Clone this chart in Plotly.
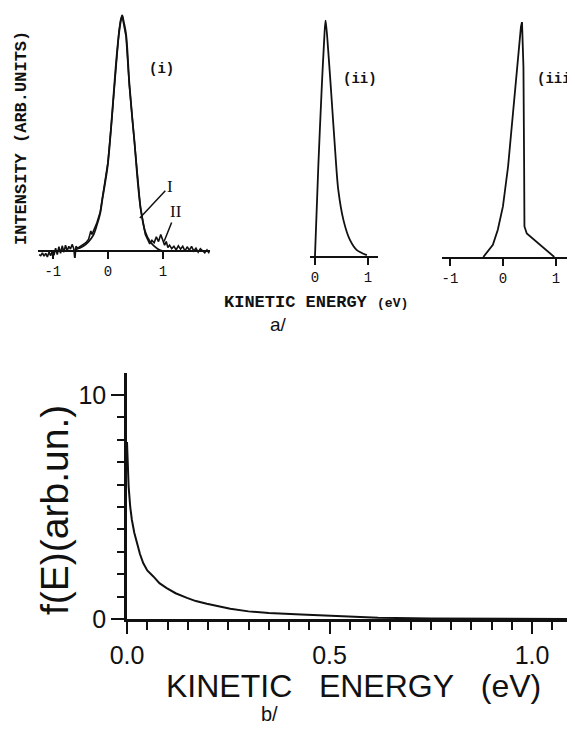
import plotly.graph_objects as go

W, H = 575, 732

# ---------------- data ----------------
# panel a(i): curve I (smooth) and curve II (noisy experimental)
e_i_I = [-0.6, -0.45, -0.35, -0.27, -0.2, -0.14, -0.1, -0.05, 0.0, 0.06, 0.115, 0.16, 0.2, 0.23,
         0.26, 0.29, 0.33, 0.39, 0.44, 0.48, 0.54, 0.59, 0.68, 0.77, 0.9, 1.0]
int_i_I = [0.005, 0.02, 0.04, 0.065, 0.11, 0.16, 0.22, 0.29, 0.37, 0.53, 0.70, 0.83, 0.92, 0.97,
           1.0, 0.97, 0.92, 0.71, 0.57, 0.47, 0.30, 0.19, 0.08, 0.038, 0.01, 0.0]

e_i_II = [-1.25, -1.22, -1.19, -1.16, -1.13, -1.10, -1.07, -1.04, -1.01, -0.98, -0.95, -0.92,
          -0.89, -0.86, -0.83, -0.80, -0.77, -0.74, -0.71, -0.68, -0.65, -0.62,
          -0.60, -0.58, -0.55, -0.50, -0.45, -0.40, -0.35, -0.31, -0.29, -0.27, -0.24, -0.2,
          -0.14, -0.1, -0.05,
          0.0, 0.06, 0.115, 0.16, 0.2, 0.23, 0.26, 0.29, 0.33, 0.39, 0.44, 0.48, 0.54, 0.59,
          0.64, 0.68, 0.72, 0.76, 0.80, 0.84, 0.88, 0.92, 0.96, 1.0,
          1.03, 1.06, 1.09, 1.12, 1.16, 1.2, 1.24, 1.28, 1.32, 1.36, 1.4, 1.44, 1.48, 1.52,
          1.56, 1.6, 1.64, 1.68, 1.72, 1.76, 1.8, 1.84]
int_i_II = [-0.015, -0.02, -0.008, -0.022, -0.01, -0.025, -0.005, -0.02, 0.0, -0.018, 0.012, -0.015,
            0.018, -0.01, 0.022, -0.005, 0.025, 0.0, 0.02, 0.008, 0.028, 0.01,
            -0.035, 0.02, 0.012, 0.02, 0.03, 0.035, 0.05, 0.085, 0.07, 0.08, 0.095, 0.12,
            0.165, 0.225, 0.29,
            0.375, 0.53, 0.70, 0.83, 0.93, 0.98, 1.0, 0.96, 0.91, 0.70, 0.57, 0.46, 0.30, 0.185,
            0.12, 0.07, 0.05, 0.03, 0.045, 0.035, 0.06, 0.04, 0.07, 0.045,
            0.025, 0.04, 0.015, 0.025, 0.01, 0.02, 0.005, 0.022, 0.008, 0.02, 0.0, 0.018,
            0.003, 0.02, 0.0, 0.012, -0.005, 0.01, 0.0, -0.008, 0.005, -0.01]

# panel a(ii)
e_ii = [0.0, 0.063, 0.127, 0.17, 0.2, 0.25, 0.316, 0.38, 0.44, 0.54, 0.66, 0.79, 0.98]
int_ii = [0.0, 0.38, 0.71, 0.9, 1.0, 0.87, 0.66, 0.45, 0.28, 0.15, 0.068, 0.025, 0.004]

# panel a(iii)
e_iii = [-0.37, -0.19, -0.097, 0.0, 0.097, 0.19, 0.29, 0.34, 0.36, 0.387, 0.40, 0.406,
         0.45, 0.55, 0.71, 0.84, 0.97]
int_iii = [0.0, 0.052, 0.116, 0.215, 0.385, 0.625, 0.866, 0.98, 1.0, 0.81, 0.385, 0.13,
           0.10, 0.08, 0.052, 0.024, 0.0]

# panel b: f(E)
e_b = [0.0, 0.002, 0.004, 0.008, 0.012, 0.018, 0.024, 0.032, 0.04, 0.05, 0.065, 0.08, 0.098,
       0.12, 0.148, 0.17, 0.197, 0.225, 0.255, 0.3, 0.35, 0.43, 0.5, 0.62, 0.75, 0.9, 1.106]
f_b = [7.9, 6.6, 5.92, 5.0, 4.43, 3.85, 3.39, 2.9, 2.5, 2.17, 1.9, 1.6, 1.38, 1.15, 0.94, 0.8,
       0.68, 0.57, 0.46, 0.34, 0.27, 0.2, 0.14, 0.06, 0.02, 0.005, 0.0]

ticks_a_i = [-1, 0, 1]
ticks_a_ii = [0, 1]
ticks_a_iii = [-1, 0, 1]
tick_step_b_x = 0.5
minor_step_b_x = 0.05
tick_step_b_y = 10
minor_step_b_y = 1

# ---------------- helpers ----------------
OFF = 8  # page body margin offset


def px(x):
    return (x - OFF) / W


def py(y):
    return 1 - (y - OFF) / H


MONO = "Liberation Mono"
SANS = "Liberation Sans"
BLACK = "#111111"

fig = go.Figure()

fig.add_trace(go.Scatter(x=e_i_II, y=int_i_II, mode="lines", line=dict(color=BLACK, width=1.6),
                         xaxis="x", yaxis="y", hoverinfo="skip"))
fig.add_trace(go.Scatter(x=e_i_I, y=int_i_I, mode="lines", line=dict(color=BLACK, width=1.8, shape="spline"),
                         xaxis="x", yaxis="y", hoverinfo="skip"))
fig.add_trace(go.Scatter(x=e_ii, y=int_ii, mode="lines", line=dict(color=BLACK, width=1.8, shape="spline", smoothing=0.8),
                         xaxis="x2", yaxis="y2", hoverinfo="skip"))
fig.add_trace(go.Scatter(x=e_iii, y=int_iii, mode="lines", line=dict(color=BLACK, width=1.8),
                         xaxis="x3", yaxis="y3", hoverinfo="skip"))
fig.add_trace(go.Scatter(x=e_b, y=f_b, mode="lines", line=dict(color=BLACK, width=2),
                         xaxis="x5", yaxis="y5", hoverinfo="skip"))

tickfont_a = dict(family=MONO, size=14, color=BLACK)

# panel (i) geometry: baseline 251 px, top 13 px, x from 38 to 210 px
base_i, top_i = 251, 13
ymax_i = 1.01
unit_i = (base_i - top_i) / ymax_i
bot_i = 258
ymin_i = -(bot_i - base_i) / unit_i

common_x = dict(showgrid=False, zeroline=False, showline=True, linecolor=BLACK, linewidth=2,
                ticks="outside", tickcolor=BLACK, tickwidth=2, tickfont=tickfont_a, ticklen=7,
                automargin=False, tickprefix="<b>", ticksuffix="</b>")
hidden = dict(visible=False, showgrid=False, zeroline=False, automargin=False)

layout = dict(
    template="none",
    width=W, height=H, margin=dict(l=0, r=0, t=0, b=0, pad=0), autosize=False,
    paper_bgcolor="white", plot_bgcolor="rgba(0,0,0,0)", showlegend=False,
    xaxis=dict(domain=[px(38), px(210)], range=[-1.27, 1.855], anchor="free", position=py(base_i),
               tickvals=ticks_a_i, ticktext=[str(v) for v in ticks_a_i], **common_x),
    yaxis=dict(domain=[py(bot_i), py(top_i)], range=[ymin_i, ymax_i], anchor="x", **hidden),
    # axis-only subplot giving the y-axis line of panel (i)
    xaxis4=dict(domain=[px(38), px(210)], range=[-1.27, 1.855], anchor="y4", **hidden),
    yaxis4=dict(domain=[py(base_i), py(top_i)], range=[0, ymax_i], anchor="x4", showline=True,
                linecolor=BLACK, linewidth=2, showgrid=False, zeroline=False, ticks="",
                showticklabels=False, automargin=False),
    xaxis2=dict(domain=[px(310), px(378)], range=[-0.094, 1.19], anchor="y2",
                tickvals=ticks_a_ii, ticktext=[str(v) for v in ticks_a_ii], **common_x),
    yaxis2=dict(domain=[py(256), py(20)], range=[0, 1.0], anchor="x2", **hidden),
    xaxis3=dict(domain=[px(442), px(575)], range=[-1.15, 1.36], anchor="y3",
                tickvals=ticks_a_iii, ticktext=[str(v) for v in ticks_a_iii], **common_x),
    yaxis3=dict(domain=[py(257), py(22)], range=[0, 1.0], anchor="x3", **hidden),
    xaxis5=dict(domain=[px(127), px(575)], range=[0, 1.106], anchor="y5", showgrid=False, zeroline=False,
                showline=True, linecolor=BLACK, linewidth=2.5, ticks="outside", ticklen=12,
                tickwidth=2, tickcolor=BLACK, tickmode="linear", tick0=0, dtick=tick_step_b_x,
                tickformat=".1f",
                tickfont=dict(family=SANS, size=25, color=BLACK), automargin=False,
                minor=dict(tickmode="linear", tick0=0, dtick=minor_step_b_x, ticks="outside", ticklen=8,
                           tickwidth=2, tickcolor=BLACK, showgrid=False)),
    yaxis5=dict(domain=[py(619), py(373)], range=[0, 10.98], anchor="x5", showgrid=False, zeroline=False,
                showline=True, linecolor=BLACK, linewidth=2.5, ticks="outside", ticklen=13,
                tickwidth=2, tickcolor=BLACK, tickmode="linear", tick0=0, dtick=tick_step_b_y,
                tickfont=dict(family=SANS, size=25, color=BLACK), automargin=False,
                minor=dict(tickmode="linear", tick0=0, dtick=minor_step_b_y, ticks="outside", ticklen=7,
                           tickwidth=2, tickcolor=BLACK, showgrid=False)),
)
fig.update_layout(**layout)


def text_ann(text, x, y, font, angle=0, xanchor="center"):
    return dict(text=text, x=px(x), y=py(y), xref="paper", yref="paper", showarrow=False,
                xanchor=xanchor, yanchor="middle", textangle=angle, font=font)


ann = []
labfont = dict(family=MONO, size=14, color=BLACK)
ann.append(text_ann("<b>(i)</b>", 162, 69, labfont))
ann.append(text_ann("<b>(ii)</b>", 360, 79, labfont))
ann.append(text_ann("<b>(iii)</b>", 535, 79, labfont, xanchor="left"))
ann.append(text_ann("<b>INTENSITY (ARB.UNITS)</b>", 22, 138, dict(family=MONO, size=17, color=BLACK), angle=-90))
ann.append(text_ann("<b>KINETIC ENERGY <span style='font-size:13px'>(eV)</span></b>", 316, 303,
                    dict(family=MONO, size=17, color=BLACK)))
ann.append(text_ann("a/", 278, 324, dict(family=SANS, size=19, color=BLACK)))
# curve labels I, II with leader lines
ann.append(dict(text="I", x=0.58, y=0.14, xref="x", yref="y", ax=30, ay=-32, showarrow=True,
                arrowhead=0, arrowwidth=1.5, arrowcolor=BLACK, standoff=0,
                font=dict(family="Liberation Serif", size=17, color=BLACK)))
ann.append(dict(text="II", x=1.02, y=0.04, xref="x", yref="y", ax=12, ay=-30, showarrow=True,
                arrowhead=0, arrowwidth=1.5, arrowcolor=BLACK, standoff=0,
                font=dict(family="Liberation Serif", size=17, color=BLACK)))
# panel b texts
ann.append(text_ann("f(E)(arb.un.)", 54, 510, dict(family=SANS, size=39, color=BLACK), angle=-90))
ann.append(text_ann("KINETIC&nbsp;&nbsp;&nbsp;ENERGY&nbsp;&nbsp;&nbsp;(eV)", 353, 686,
                    dict(family=SANS, size=32, color=BLACK)))
ann.append(text_ann("b/", 269, 714, dict(family=SANS, size=20, color=BLACK)))
fig.update_layout(annotations=ann)

fig.write_html("out.html")
